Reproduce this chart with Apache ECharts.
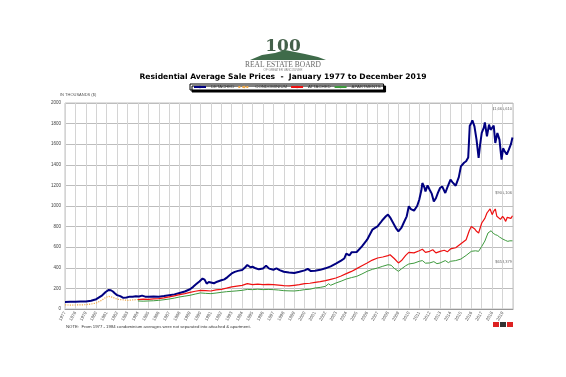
<!DOCTYPE html>
<html>
<head>
  <meta charset="UTF-8">
  <title>Residential Average Sale Prices</title>
  <script src="https://cdn.jsdelivr.net/npm/echarts@6/dist/echarts.min.js"></script>
  <style>
  html, body { margin: 0; padding: 0; background: #fff; }
  #chart { width: 566px; height: 377px; }
  </style>
</head>
<body>
  <div id="chart"></div>
<script>
// values in thousands of dollars, [year, price]
var detached = [
  [1977.0, 68], [1977.5, 70], [1978.0, 70], [1978.5, 72], [1979.0, 72], [1979.5, 80],
  [1980.0, 95], [1980.5, 127], [1980.9, 165], [1981.2, 185], [1981.4, 182], [1981.6, 170],
  [1981.8, 150], [1982.0, 135], [1982.3, 125], [1982.6, 108], [1982.9, 112], [1983.2, 120],
  [1983.5, 118], [1983.8, 124], [1984.1, 122], [1984.4, 130], [1984.7, 120], [1985.0, 118],
  [1985.5, 121], [1986.0, 120], [1986.5, 126], [1987.0, 134], [1987.5, 142], [1988.0, 156],
  [1988.5, 170], [1989.0, 192], [1989.3, 215], [1989.6, 242], [1989.9, 268], [1990.2, 296],
  [1990.4, 285], [1990.6, 246], [1990.8, 262], [1991.0, 258], [1991.3, 250], [1991.6, 265],
  [1992.0, 279], [1992.3, 288], [1992.6, 310], [1993.0, 345], [1993.3, 360], [1993.6, 370],
  [1994.0, 378], [1994.3, 405], [1994.5, 427], [1994.8, 405], [1995.0, 410], [1995.3, 395],
  [1995.6, 385], [1996.0, 394], [1996.3, 420], [1996.6, 392], [1997.0, 381], [1997.3, 395],
  [1997.6, 378], [1998.0, 362], [1998.5, 355], [1999.0, 350], [1999.5, 362], [2000.0, 375],
  [2000.3, 390], [2000.6, 368], [2001.0, 372], [2001.5, 380], [2002.0, 395], [2002.5, 414],
  [2003.0, 440], [2003.5, 469], [2003.8, 490], [2004.0, 537], [2004.3, 520], [2004.5, 550],
  [2005.0, 553], [2005.5, 608], [2006.0, 673], [2006.5, 770], [2006.8, 790], [2007.0, 802],
  [2007.3, 840], [2007.5, 867], [2007.8, 900], [2008.0, 916], [2008.2, 890], [2008.5, 835],
  [2008.8, 780], [2009.0, 754], [2009.3, 790], [2009.5, 835], [2009.8, 900], [2010.0, 997],
  [2010.2, 970], [2010.5, 955], [2010.8, 1000], [2011.0, 1061], [2011.2, 1150], [2011.3, 1223],
  [2011.5, 1180], [2011.6, 1142], [2011.8, 1200], [2012.0, 1158], [2012.2, 1120], [2012.4, 1045],
  [2012.6, 1075], [2012.8, 1130], [2013.0, 1175], [2013.2, 1190], [2013.5, 1126], [2013.7, 1180],
  [2014.0, 1255], [2014.2, 1230], [2014.5, 1197], [2014.8, 1280], [2015.0, 1385], [2015.3, 1420],
  [2015.5, 1434], [2015.7, 1470], [2015.85, 1780], [2016.0, 1806], [2016.1, 1832], [2016.3, 1773],
  [2016.5, 1644], [2016.7, 1466], [2016.85, 1600], [2017.0, 1709], [2017.2, 1760], [2017.3, 1812],
  [2017.5, 1676], [2017.7, 1790], [2017.85, 1740], [2018.0, 1725], [2018.15, 1780], [2018.3, 1612],
  [2018.5, 1709], [2018.7, 1644], [2018.9, 1450], [2019.05, 1560], [2019.2, 1531], [2019.4, 1500],
  [2019.6, 1547], [2019.8, 1600], [2019.95, 1666]
];

var condominium = [
  [1977.0, 40], [1977.5, 38], [1978.0, 39], [1978.5, 40], [1979.0, 42], [1979.5, 48],
  [1980.0, 58], [1980.5, 84], [1980.9, 112], [1981.2, 123], [1981.5, 115], [1981.8, 105],
  [1982.0, 94], [1982.5, 90], [1983.0, 84], [1983.5, 88], [1984.0, 92]
];

var attached = [
  [1984.0, 91], [1984.5, 95], [1985.0, 94], [1985.5, 98], [1986.0, 100], [1986.5, 108],
  [1987.0, 117], [1987.5, 128], [1988.0, 139], [1988.5, 150], [1989.0, 162], [1989.5, 172],
  [1990.0, 181], [1990.5, 178], [1991.0, 175], [1991.5, 185], [1992.0, 191], [1992.5, 202],
  [1993.0, 214], [1993.5, 222], [1994.0, 230], [1994.5, 246], [1995.0, 236], [1995.5, 242],
  [1996.0, 236], [1996.5, 240], [1997.0, 236], [1997.5, 232], [1998.0, 227], [1998.5, 224],
  [1999.0, 230], [1999.5, 236], [2000.0, 246], [2000.5, 250], [2001.0, 259], [2001.5, 265],
  [2002.0, 275], [2002.5, 288], [2003.0, 301], [2003.5, 320], [2004.0, 343], [2004.5, 365],
  [2005.0, 392], [2005.5, 420], [2006.0, 447], [2006.5, 475], [2007.0, 495], [2007.5, 505],
  [2008.0, 518], [2008.2, 527], [2008.6, 490], [2009.0, 447], [2009.3, 470], [2009.7, 520],
  [2010.0, 550], [2010.5, 545], [2011.0, 566], [2011.3, 580], [2011.6, 550], [2012.0, 560],
  [2012.3, 575], [2012.6, 545], [2013.0, 560], [2013.4, 570], [2013.7, 555], [2014.0, 583],
  [2014.5, 595], [2015.0, 634], [2015.5, 673], [2015.8, 760], [2016.0, 802], [2016.3, 780],
  [2016.5, 754], [2016.7, 738], [2017.0, 835], [2017.3, 880], [2017.5, 932], [2017.8, 971],
  [2018.0, 916], [2018.15, 950], [2018.3, 971], [2018.45, 900], [2018.6, 883], [2018.8, 870],
  [2019.0, 900], [2019.15, 880], [2019.3, 851], [2019.45, 890], [2019.6, 900], [2019.8, 880],
  [2019.95, 905]
];

var apartments = [
  [1984.0, 78], [1984.5, 76], [1985.0, 78], [1985.5, 80], [1986.0, 84], [1986.5, 90],
  [1987.0, 97], [1987.5, 106], [1988.0, 117], [1988.5, 125], [1989.0, 133], [1989.5, 145],
  [1990.0, 156], [1990.5, 152], [1991.0, 149], [1991.5, 155], [1992.0, 162], [1992.5, 168],
  [1993.0, 172], [1993.5, 176], [1994.0, 181], [1994.5, 190], [1995.0, 188], [1995.5, 192],
  [1996.0, 188], [1996.5, 190], [1997.0, 188], [1997.5, 184], [1998.0, 178], [1998.5, 176],
  [1999.0, 175], [1999.5, 180], [2000.0, 188], [2000.5, 192], [2001.0, 204], [2001.5, 210],
  [2002.0, 220], [2002.3, 245], [2002.5, 230], [2003.0, 252], [2003.5, 270], [2004.0, 291],
  [2004.5, 305], [2005.0, 317], [2005.5, 340], [2006.0, 366], [2006.5, 385], [2007.0, 398],
  [2007.5, 415], [2008.0, 430], [2008.3, 425], [2008.6, 395], [2009.0, 366], [2009.3, 390],
  [2009.7, 420], [2010.0, 437], [2010.5, 445], [2011.0, 463], [2011.3, 470], [2011.6, 445],
  [2012.0, 447], [2012.4, 460], [2012.7, 440], [2013.0, 447], [2013.5, 470], [2013.8, 450],
  [2014.0, 463], [2014.5, 470], [2015.0, 485], [2015.5, 520], [2016.0, 560], [2016.4, 565],
  [2016.7, 560], [2017.0, 608], [2017.3, 660], [2017.6, 738], [2017.9, 760], [2018.1, 735],
  [2018.3, 722], [2018.5, 715], [2018.7, 699], [2019.0, 680], [2019.3, 665], [2019.5, 657],
  [2019.7, 662], [2019.95, 662]
];

var firstYear = 1977;
var lastYear = 2020;
var seriesNames = ['DETACHED', 'CONDOMINIUM', 'ATTACHED', 'APARTMENTS'];
var latestLabels = ['$1,665,610', '$905,106', '$658,379'];

var chart = echarts.init(document.getElementById('chart'));

var tiny = 'Liberation Sans';

var option = {
  backgroundColor: '#fff',
  animation: false,
  grid: {
    left: 65,
    right: 53,
    top: 103,
    bottom: 68,
    show: true,
    borderColor: '#c0c0c0',
    borderWidth: 1
  },
  legend: {
    data: seriesNames,
    left: 190,
    top: 84,
    padding: [1, 3, 1, 3],
    itemWidth: 12,
    itemHeight: 3,
    itemGap: 3,
    backgroundColor: '#fff',
    borderColor: '#000',
    borderWidth: 1,
    shadowColor: '#000',
    shadowOffsetX: 2,
    shadowOffsetY: 2,
    shadowBlur: 0,
    textStyle: { fontFamily: tiny, fontSize: 4.3, color: '#333' }
  },
  xAxis: {
    type: 'value',
    min: firstYear,
    max: lastYear,
    interval: 1,
    axisLine: { show: true, lineStyle: { color: '#999', width: 1 } },
    axisTick: { show: false },
    splitLine: { show: true, lineStyle: { color: '#d4d4d4', width: 1 } },
    axisLabel: {
      rotate: 60,
      fontFamily: tiny,
      fontSize: 4.5,
      color: '#555',
      margin: 3,
      formatter: function (v) { return v < lastYear ? String(v) : ''; }
    }
  },
  yAxis: {
    type: 'value',
    min: 0,
    max: 2000,
    interval: 200,
    axisLine: { show: false },
    axisTick: { show: false },
    splitLine: { show: true, lineStyle: { color: '#bdbdbd', width: 1 } },
    axisLabel: {
      fontFamily: tiny, fontSize: 4.5, color: '#444', margin: 4,
      formatter: function (v) { return String(v); }
    }
  },
  series: [{
    name: 'DETACHED',
    type: 'line',
    symbol: 'none',
    data: detached,
    itemStyle: { color: '#000080' },
    lineStyle: { color: '#000080', width: 2 }
  }, {
    name: 'CONDOMINIUM',
    type: 'line',
    symbol: 'none',
    data: condominium,
    itemStyle: { color: '#f0a848' },
    lineStyle: { color: '#f0a848', width: 1.2, type: 'dotted' }
  }, {
    name: 'ATTACHED',
    type: 'line',
    symbol: 'none',
    data: attached,
    itemStyle: { color: '#ee1111' },
    lineStyle: { color: '#ee1111', width: 1.2 }
  }, {
    name: 'APARTMENTS',
    type: 'line',
    symbol: 'none',
    data: apartments,
    itemStyle: { color: '#3e9a3e' },
    lineStyle: { color: '#3e9a3e', width: 1 }
  }],
  graphic: [
    // board logo
    { type: 'text', left: 'center', top: 38, style: { text: '100', fontFamily: 'DejaVu Serif', fontSize: 17, fontWeight: 'bold', fill: '#44604a' } },
    { type: 'polygon', shape: { points: [[250, 60], [262, 55], [275, 53], [285, 50], [295, 52], [305, 54], [318, 57], [326, 60]] }, style: { fill: '#3f6b4a' } },
    { type: 'text', left: 'center', top: 61, style: { text: 'REAL ESTATE BOARD', fontFamily: 'Liberation Serif', fontSize: 7.5, fill: '#6a6a6a' } },
    { type: 'text', left: 'center', top: 69, style: { text: 'OF GREATER VANCOUVER', fontFamily: tiny, fontSize: 3, fill: '#888' } },
    // title
    { type: 'text', left: 'center', top: 73, style: { text: 'Residential Average Sale Prices  -  January 1977 to December 2019', fontFamily: 'DejaVu Sans', fontWeight: 'bold', fontSize: 7.6, fill: '#000' } },
    { type: 'text', left: 60, top: 93, style: { text: 'IN THOUSANDS ($)', fontFamily: tiny, fontSize: 4, fill: '#555' } },
    // latest values
    { type: 'text', right: 54, top: 107, style: { text: latestLabels[0], fontFamily: tiny, fontSize: 4, fill: '#666' } },
    { type: 'text', right: 54, top: 191, style: { text: latestLabels[1], fontFamily: tiny, fontSize: 4, fill: '#666' } },
    { type: 'text', right: 54, top: 260, style: { text: latestLabels[2], fontFamily: tiny, fontSize: 4, fill: '#666' } },
    // note
    { type: 'text', left: 66, top: 325, style: { text: 'NOTE:  From 1977 - 1984 condominium averages were not separated into attached & apartment.', fontFamily: tiny, fontSize: 4.3, fill: '#333' } },
    // small logos bottom right
    { type: 'rect', shape: { x: 493, y: 322, width: 6, height: 5 }, style: { fill: '#d22' } },
    { type: 'rect', shape: { x: 500, y: 322, width: 6, height: 5 }, style: { fill: '#333' } },
    { type: 'rect', shape: { x: 507, y: 322, width: 6, height: 5 }, style: { fill: '#d22' } }
  ]
};

chart.setOption(option);
</script>
</body>
</html>
